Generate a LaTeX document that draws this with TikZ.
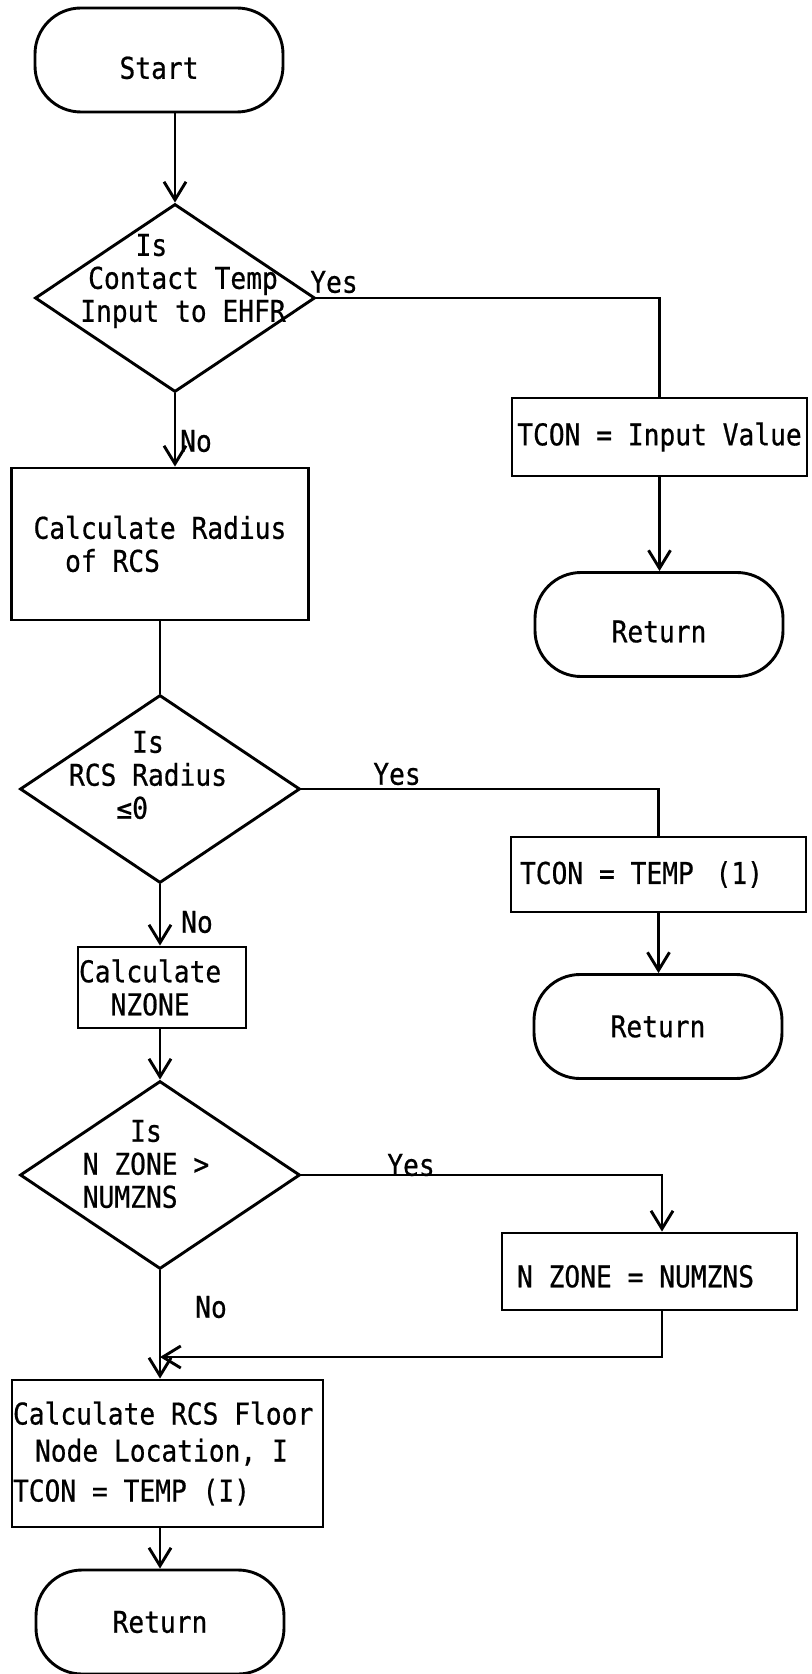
\documentclass[tikz,border=0pt]{standalone}
\usepackage{fontspec}
% narrow line-printer style lettering
\newfontfamily\lpfont[FakeStretch=0.875,FakeBold=0.6]{DejaVu Sans Mono}
\usetikzlibrary{shapes.geometric,arrows.meta}

\begin{document}
\begin{tikzpicture}[x=0.5pt,y=-0.5pt,
  every node/.style={font={\lpfont\fontsize{15pt}{16.5pt}\selectfont}},
  flow/.style={line width=1.45pt},
  arr/.style={flow,-{Straight Barb[length=9pt,width=11pt]}},
  term/.style={draw,line width=1.45pt,rounded corners=23pt,
    minimum width=124pt,minimum height=52pt,inner sep=0pt},
  decision/.style={draw,diamond,line width=1.45pt,
    minimum width=140pt,minimum height=94pt,inner sep=0pt},
  % boxed text keeps the full monospaced word space
  procbox/.style={draw,line width=1.45pt,align=left,inner ysep=0pt,
    execute at begin node={\spaceskip=\fontdimen2\font\xspaceskip=\fontdimen2\font\relax}},
  dtext/.style={inner sep=0pt,align=center},
  lbl/.style={inner sep=0pt}]

\fill[white] (0,0) rectangle (812,1674);
\useasboundingbox (0,0) rectangle (812,1674);

% ---- first test: contact temperature given?
\node[term,text height=19pt] (start) at (159,60) {Start};
\node[decision] (d1) at (175,298) {};
\node[dtext] (d1t) at (183,281) {Is\phantom{xxxx}\\Contact Temp\\Input to EHFR};
\node[lbl] (y1) at (334,282) {Yes};
\node[procbox,align=center,inner xsep=1pt,text width=145.5pt,minimum height=39pt]
  (b1) at (659.5,437) {TCON = Input Value};
\node[term,text height=18pt] (ret1) at (659,624.5) {Return};
\node[lbl] (n1) at (196,441) {No};

% ---- radius of the RCS
\node[procbox,inner xsep=11pt,text width=126.5pt,minimum height=76pt]
  (rad) at (160,544) {Calculate Radius\\\phantom{xx}of RCS};
\node[decision] (d2) at (160,789) {};
\node[dtext] (d2t) at (148,775) {Is\\RCS Radius\\≤0\phantom{xx}};
\node[lbl] (y2) at (397,774) {Yes};
\node[procbox,inner xsep=4.5pt,text width=138.5pt,minimum height=37.5pt]
  (b2) at (658.5,874.5) {TCON = TEMP\hspace{3pt} (1)};
\node[term] (ret2) at (658,1026.5) {Return};
\node[lbl] (n2) at (197,922) {No};

% ---- zone count
\node[procbox,inner xsep=0.5pt,text width=83pt,minimum height=40.5pt]
  (nz) at (162,987.5) {Calculate\\\phantom{xx}NZONE};
\node[decision] (d3) at (160,1175) {};
\node[dtext,align=left] (d3t) at (146,1164) {\phantom{xxx}Is\\N ZONE >\\NUMZNS};
\node[lbl] (y3) at (411,1165) {Yes};
\node[procbox,inner xsep=7.5pt,text width=132.5pt,minimum height=38.5pt,text height=16pt]
  (b3) at (649.5,1271.5) {N ZONE = NUMZNS};
\node[lbl] (n3) at (211,1307) {No};
\coordinate (m) at (160,1357);

% ---- floor node and result
\node[procbox,inner xsep=0.5pt,text width=154.5pt,minimum height=73.5pt]
  (fl) at (167.5,1453.5)
  {Calculate RCS Floor\\[2pt]\hspace*{11pt}Node Location, I\\[3.5pt]TCON = TEMP (I)};
\node[term] (ret3) at (160,1622) {Return};

% ---- connectors
\draw[arr] (d1.north |- start.south) -- (d1.north);
\draw[flow] (d1.east) -| (b1.north);
\draw[arr] (b1.south) -- (b1.south |- ret1.north);
\draw[arr] (d1.south) -- (d1.south |- rad.north);
\draw[flow] (rad.south) -- (d2.north);
\draw[arr] (d2.south) -- (d2.south |- nz.north);
\draw[flow] (d2.east) -| (b2.north);
\draw[arr] (b2.south) -- (b2.south |- ret2.north);
\draw[arr] (nz.south -| d3.north) -- (d3.north);
\draw[arr] (d3.east) -| ([xshift=6.25pt]b3.north);
\draw[arr] ([xshift=6.25pt]b3.south) |- (m);
\draw[arr] (d3.south) -- (d3.south |- fl.north);
\draw[arr] (fl.south -| ret3.north) -- (ret3.north);
\end{tikzpicture}
\end{document}
